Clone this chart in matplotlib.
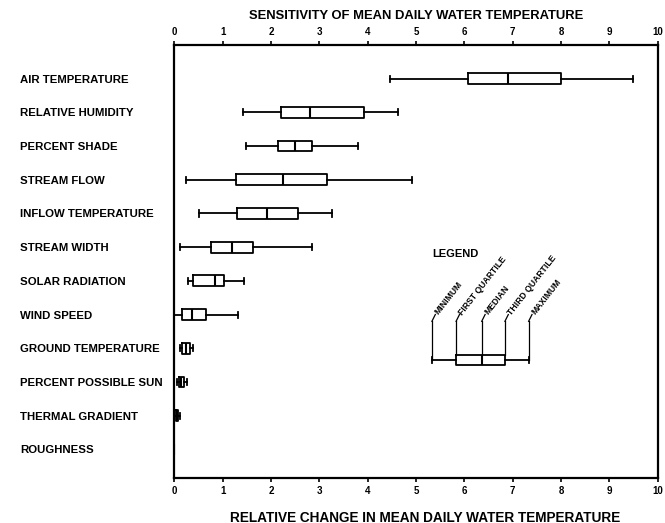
import matplotlib
matplotlib.use("Agg")
import matplotlib.pyplot as plt

plt.rcParams['font.family'] = ['Liberation Sans', 'DejaVu Sans']
plt.rcParams['font.weight'] = 'bold'

# sensitivity parameters, top to bottom
params = ["AIR TEMPERATURE", "RELATIVE HUMIDITY", "PERCENT SHADE", "STREAM FLOW",
          "INFLOW TEMPERATURE", "STREAM WIDTH", "SOLAR RADIATION", "WIND SPEED",
          "GROUND TEMPERATURE", "PERCENT POSSIBLE SUN", "THERMAL GRADIENT", "ROUGHNESS"]

# five-number summaries of relative change in mean daily water temperature
mins    = [4.47, 1.43, 1.48, 0.24, 0.52, 0.12, 0.29, 0.00, 0.12, 0.05, 0.00, 0.0]
q1s     = [6.07, 2.20, 2.15, 1.28, 1.29, 0.77, 0.38, 0.17, 0.17, 0.10, 0.03, 0.0]
medians = [6.91, 2.81, 2.50, 2.24, 1.92, 1.19, 0.84, 0.36, 0.25, 0.15, 0.06, 0.0]
q3s     = [8.00, 3.93, 2.86, 3.16, 2.55, 1.63, 1.03, 0.66, 0.33, 0.20, 0.08, 0.0]
maxs    = [9.48, 4.62, 3.81, 4.91, 3.26, 2.84, 1.45, 1.31, 0.38, 0.26, 0.12, 0.0]

# legend example box
leg_stats = [5.33, 5.83, 6.36, 6.84, 7.33]
leg_names = ["MINIMUM", "FIRST QUARTILE", "MEDIAN", "THIRD QUARTILE", "MAXIMUM"]
leg_row = 8.35

fig = plt.figure(figsize=(6.65, 5.23), dpi=100)
ax = fig.add_axes([0.262, 0.086, 0.727, 0.828])

stats = []
for i in range(len(params)):
    stats.append(dict(whislo=mins[i], q1=q1s[i], med=medians[i], q3=q3s[i],
                      whishi=maxs[i], fliers=[]))
leg = dict(whislo=leg_stats[0], q1=leg_stats[1], med=leg_stats[2],
           q3=leg_stats[3], whishi=leg_stats[4], fliers=[])

line = dict(color='black', linewidth=1.3)
positions = list(range(len(params)))
ax.bxp(stats + [leg], positions=positions + [leg_row], orientation='horizontal',
       widths=0.32, capwidths=0.18, showfliers=False,
       boxprops=line, whiskerprops=line, capprops=line,
       medianprops=dict(color='black', linewidth=1.5))

ax.set_xlim(0, 10)
ax.set_ylim(11.85, -1.0)
ax.set_yticks(positions)
ax.set_yticklabels(params, fontsize=8.2, fontweight='bold')
for lab in ax.get_yticklabels():
    lab.set_horizontalalignment('left')
# left-aligned labels start ~154 px left of the frame
ax.tick_params(axis='y', length=0, pad=111)

ax.set_xticks(range(0, 11))
ax.tick_params(axis='x', top=True, labeltop=True, bottom=True, labelbottom=True,
               direction='out', length=3, width=1.2, labelsize=7, pad=3)
for lab in ax.get_xticklabels():
    lab.set_fontweight('bold')
for s in ax.spines.values():
    s.set_linewidth(1.6)

ax.set_title("SENSITIVITY OF MEAN DAILY WATER TEMPERATURE", fontsize=9.4,
             fontweight='bold', pad=19)
ax.set_xlabel("RELATIVE CHANGE IN MEAN DAILY WATER TEMPERATURE", fontsize=9.8,
              fontweight='bold', labelpad=11)
ax.xaxis.set_label_coords(0.518, -0.075)

# legend annotation
ax.text(5.33, 5.2, "LEGEND", fontsize=8, fontweight='bold', va='center', ha='left')
top_y = 7.2
for k, (xv, name) in enumerate(zip(leg_stats, leg_names)):
    start = leg_row if k in (0, 4) else leg_row - 0.16
    ax.plot([xv, xv], [start, top_y], color='black', linewidth=0.9)
    ax.plot([xv, xv + 0.07], [top_y, top_y - 0.2], color='black', linewidth=0.9)
    ax.text(xv + 0.1, top_y - 0.22, name, fontsize=6.2, fontweight='bold',
            rotation=52, rotation_mode='anchor', ha='left', va='center')

fig.savefig("out.png", dpi=100)
